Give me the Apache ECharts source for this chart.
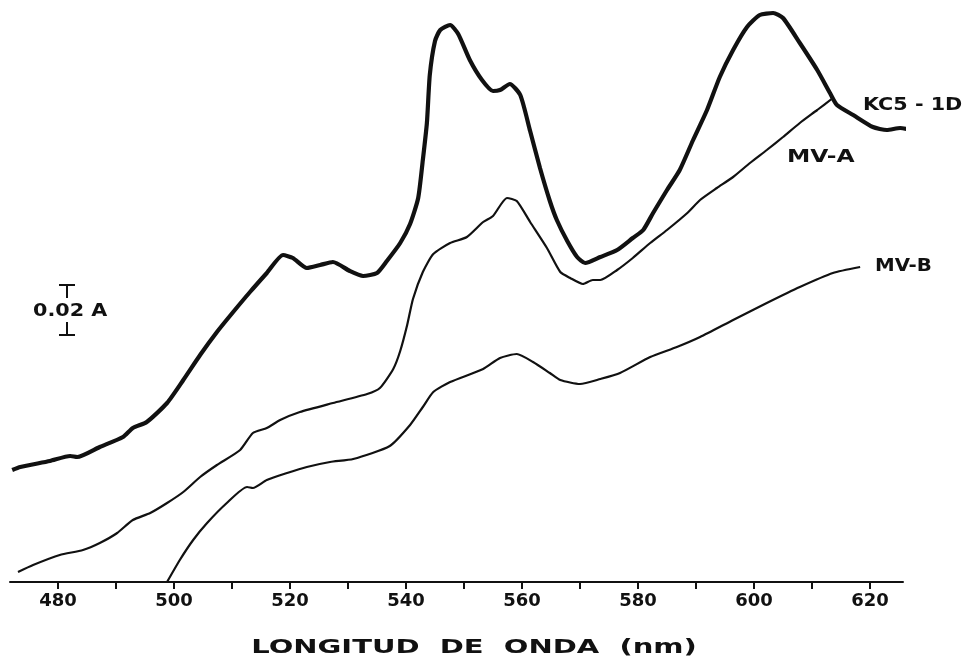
<!DOCTYPE html>
<html><head><meta charset="utf-8">
<script src="https://cdn.jsdelivr.net/npm/echarts@6/dist/echarts.min.js"></script>
<style>html,body{margin:0;padding:0;background:#fff}#c{width:968px;height:665px}</style>
</head><body><div id="c"></div>
<script>
// Wavelength (nm) and absorbance (A, arbitrary offset)
const kcWl = [472.1,473.5,478.6,482.1,483.3,487.2,491.2,492.9,495.3,498.8,501.6,504.5,507.4,510.2,513.1,516.0,518.8,520.5,522.9,525.2,527.4,530.3,532.6,535.0,536.7,539.0,540.7,542.1,542.9,543.6,544.1,545.0,545.9,547.6,549.0,551.0,553.1,555.0,556.2,557.9,559.7,561.4,563.1,564.8,566.0,567.8,569.5,570.9,573.5,576.4,579.1,580.9,582.6,585.0,587.2,589.5,591.9,594.1,596.4,598.8,601.0,603.3,605.0,607.9,610.9,613.1,614.3,617.1,620.5,622.9,625.2,627.8];
const kcAbs = [0.0448,0.0460,0.0484,0.0504,0.0500,0.0540,0.0580,0.0616,0.0640,0.0716,0.0808,0.0908,0.1000,0.1080,0.1160,0.1236,0.1308,0.1296,0.1256,0.1268,0.1280,0.1244,0.1224,0.1236,0.1284,0.1356,0.1432,0.1536,0.1688,0.1836,0.2028,0.2164,0.2208,0.2228,0.2192,0.2088,0.2008,0.1964,0.1968,0.1992,0.1948,0.1804,0.1656,0.1524,0.1448,0.1364,0.1300,0.1276,0.1300,0.1328,0.1376,0.1408,0.1476,0.1568,0.1648,0.1768,0.1888,0.2020,0.2128,0.2220,0.2268,0.2276,0.2256,0.2156,0.2048,0.1956,0.1908,0.1868,0.1820,0.1808,0.1816,0.1804];

const mvaWl = [473.1,475.7,480.3,484.3,487.2,490.2,492.9,495.9,498.8,501.6,504.5,507.4,511.4,513.6,516.0,518.3,521.7,527.4,533.3,535.5,537.8,539.0,540.2,541.2,542.9,544.7,547.6,550.5,553.3,555.0,557.4,559.1,561.4,564.3,566.6,568.3,570.5,572.2,573.5,576.4,579.1,582.1,585.0,588.5,590.7,593.6,596.4,599.3,602.2,605.0,607.9,610.9,613.6];
const mvaAbs = [0.0040,0.0068,0.0108,0.0128,0.0156,0.0196,0.0248,0.0276,0.0316,0.0360,0.0420,0.0468,0.0528,0.0596,0.0616,0.0648,0.0680,0.0716,0.0752,0.0776,0.0852,0.0924,0.1028,0.1132,0.1240,0.1312,0.1356,0.1380,0.1440,0.1464,0.1536,0.1524,0.1440,0.1336,0.1240,0.1216,0.1192,0.1208,0.1208,0.1248,0.1296,0.1356,0.1408,0.1476,0.1528,0.1576,0.1620,0.1676,0.1728,0.1780,0.1836,0.1888,0.1936];

const mvbWl = [498.8,501.0,503.3,505.7,509.1,512.6,513.6,516.0,519.5,522.9,526.9,530.9,537.2,540.7,542.9,544.7,547.6,553.3,556.2,559.1,561.9,564.8,566.6,570.0,573.5,576.9,582.1,586.7,590.7,596.4,602.2,607.9,613.6,618.3];
const mvbAbs = [0.0000,0.0088,0.0168,0.0236,0.0316,0.0380,0.0376,0.0408,0.0436,0.0460,0.0480,0.0492,0.0544,0.0628,0.0700,0.0760,0.0800,0.0852,0.0896,0.0912,0.0880,0.0836,0.0808,0.0792,0.0812,0.0836,0.0900,0.0940,0.0980,0.1048,0.1116,0.1180,0.1236,0.1260];

const labelTicks = [480,500,520,540,560,580,600,620];
const minorTicks = [480,490,500,510,520,530,540,550,560,570,580,590,600,610,620];
const xMin = 471.72, xMax = 625.69, yMin = 0, yMax = 0.2288;
const scaleBar = [481.55, 0.0988, 0.1188]; // wavelength, bottom, top (0.02 A)
const seriesNames = ['KC5 - 1D','MV-A','MV-B'];

const zip = (a,b) => a.map((v,i)=>[v,b[i]]);
const FONT = 'DejaVu Sans';
const chart = echarts.init(document.getElementById('c'), null, {renderer:'canvas'});
chart.setOption({
  animation:false,
  backgroundColor:'#ffffff',
  grid:{left:10,right:65,top:10,bottom:83,containLabel:false},
  xAxis:{type:'value',min:xMin,max:xMax,
    axisLine:{lineStyle:{color:'#111',width:2}},
    axisTick:{show:true,length:7,lineStyle:{color:'#111',width:2},customValues:minorTicks},
    axisLabel:{customValues:labelTicks,color:'#111',fontFamily:FONT,fontWeight:'bold',fontSize:18,margin:10},
    splitLine:{show:false}},
  yAxis:{type:'value',min:yMin,max:yMax,show:false,splitLine:{show:false}},
  series:[
    {name:seriesNames[0],type:'line',data:zip(kcWl,kcAbs),showSymbol:false,clip:false,smooth:0.2,
      lineStyle:{color:'#111',width:4.2}},
    {name:seriesNames[1],type:'line',data:zip(mvaWl,mvaAbs),showSymbol:false,clip:false,smooth:0.2,
      lineStyle:{color:'#111',width:2.2}},
    {name:seriesNames[2],type:'line',data:zip(mvbWl,mvbAbs),showSymbol:false,clip:false,smooth:0.2,
      lineStyle:{color:'#111',width:2.2}},
    {type:'custom',data:[scaleBar],clip:false,encode:{x:0,y:[1,2]},
      renderItem:function(params,api){
        const top = api.coord([api.value(0),api.value(2)]);
        const bot = api.coord([api.value(0),api.value(1)]);
        const ls = {stroke:'#111',lineWidth:2};
        return {type:'group',children:[
          {type:'line',shape:{x1:top[0]-8,y1:top[1],x2:top[0]+8,y2:top[1]},style:ls},
          {type:'line',shape:{x1:top[0],y1:top[1],x2:top[0],y2:top[1]+13},style:ls},
          {type:'line',shape:{x1:bot[0],y1:bot[1]-13,x2:bot[0],y2:bot[1]},style:ls},
          {type:'line',shape:{x1:bot[0]-8,y1:bot[1],x2:bot[0]+8,y2:bot[1]},style:ls},
          {type:'text',x:top[0]-34,y:(top[1]+bot[1])/2+1,scaleX:1.15,style:{text:'0.02 A',fill:'#111',font:'bold 18px "DejaVu Sans"',verticalAlign:'middle',align:'left'}}
        ]};
      }}
  ],
  graphic:[
    {type:'text',x:863,y:105,scaleX:1.15,style:{text:'KC5 - 1D',fill:'#111',font:'bold 18px "DejaVu Sans"',align:'left',verticalAlign:'middle'}},
    {type:'text',x:787,y:157,scaleX:1.3,style:{text:'MV-A',fill:'#111',font:'bold 18px "DejaVu Sans"',align:'left',verticalAlign:'middle'}},
    {type:'text',x:875,y:266,scaleX:1.1,style:{text:'MV-B',fill:'#111',font:'bold 18px "DejaVu Sans"',align:'left',verticalAlign:'middle'}},
    {type:'text',x:474,y:648,scaleX:1.45,style:{text:'LONGITUD  DE  ONDA  (nm)',fill:'#111',font:'bold 20px "DejaVu Sans"',align:'center',verticalAlign:'middle'}}
  ]
});
</script></body></html>
